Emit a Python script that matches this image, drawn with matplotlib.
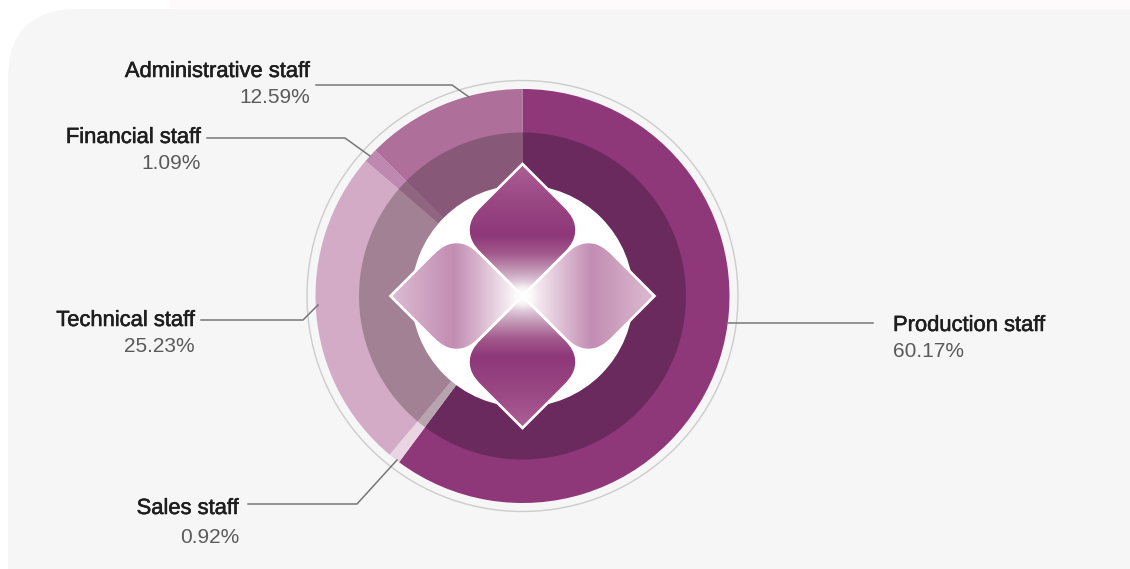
import numpy as np
import matplotlib
matplotlib.use("Agg")
import matplotlib.pyplot as plt
import matplotlib.patheffects as pe
from matplotlib.colors import LinearSegmentedColormap
from matplotlib.patches import Circle, FancyBboxPatch, PathPatch, Rectangle
from matplotlib.path import Path

labels = ["Production staff", "Sales staff", "Technical staff", "Financial staff", "Administrative staff"]
shares = [60.17, 0.92, 25.23, 1.09, 12.59]

outer_colors = ["#8E3779", "#EAD5E3", "#D3ABC6", "#BF88B0", "#AE6F9B"]
inner_colors = ["#6B2A5E", "#B8A4AF", "#A38195", "#8F6580", "#875877"]

# baseline of the name and value lines, alignment, leader polyline
label_x = [893, 239, 195, 201, 310]
name_y = [331, 514, 326, 143, 77]
value_y = [357, 543, 352, 169, 103]
label_ha = ["left", "right", "right", "right", "right"]
leaders = [
    [(727, 323), (873, 323)],
    [(248, 504), (357, 504), (397, 460)],
    [(201, 320), (303, 320), (318, 305)],
    [(207, 138), (345, 138), (370, 156)],
    [(316, 85), (452, 85), (469, 97)],
]

cx, cy = 522.5, 296
W, H = 1130, 569

plt.rcParams["font.family"] = ["Liberation Sans", "DejaVu Sans"]

fig = plt.figure(figsize=(W / 100, H / 100), dpi=100, facecolor="white")
ax = fig.add_axes([0, 0, 1, 1])

# background panel, runs off the right and bottom edges
ax.add_patch(Rectangle((170, 0), 960, 10, fc="#FEFAFB", ec="none", zorder=0))
ax.add_patch(FancyBboxPatch((78, 79), 1300, 800, boxstyle="round,pad=70,rounding_size=70",
                            fc="#F6F6F6", ec="none", zorder=0))

# thin guide ring
ax.add_patch(Circle((cx, cy), 215.5, fc="none", ec="#CCCCCC", lw=1.0, zorder=1))

# y axis is flipped, so startangle=-90 with counterclock goes clockwise from the top
ax.pie(shares, colors=outer_colors, radius=207, center=(cx, cy), startangle=-90,
       counterclock=True, wedgeprops=dict(lw=0, zorder=2))
ax.pie(shares, colors=inner_colors, radius=163.5, center=(cx, cy), startangle=-90,
       counterclock=True, wedgeprops=dict(lw=0, zorder=3))
ax.add_patch(Circle((cx, cy), 111, fc="white", ec="none", zorder=4))


def petal(ux, uy, tip=132, bulge=66, start=42, w=54):
    # one rounded diamond, from the centre out to the tip along (ux, uy)
    far = 2 * bulge - start
    local = [(0, 0), (start, start),
             (start + 8, start + 8), (bulge - 9, w), (bulge, w),
             (bulge + 9, w), (far - 8, start + 8), (far, start),
             (tip, 0), (far, -start),
             (far - 8, -start - 8), (bulge + 9, -w), (bulge, -w),
             (bulge - 9, -w), (start + 8, -start - 8), (start, -start),
             (0, 0)]
    verts = [(cx + u * ux - v * uy, cy + u * uy + v * ux) for u, v in local]
    codes = [Path.MOVETO, Path.LINETO] + [Path.CURVE4] * 6 + [Path.LINETO] * 2 \
        + [Path.CURVE4] * 6 + [Path.CLOSEPOLY]
    return Path(verts, codes)


dark_ramp = LinearSegmentedColormap.from_list("dark_ramp", [
    (0, "#FFFFFF"), (0.06, "#EFE2EB"), (0.14, "#D3B5CA"), (0.22, "#BC8DAE"), (0.32, "#A35A8D"),
    (0.46, "#8E3779"), (0.75, "#9B4985"), (1, "#AC6096")])
light_ramp = LinearSegmentedColormap.from_list("light_ramp", [
    (0, "#FFFFFF"), (0.12, "#F3E6EF"), (0.3, "#DDBED3"), (0.52, "#C28DB3"),
    (0.72, "#CDA0BF"), (1, "#DDBCD2")])

xs = np.linspace(cx - 134, cx + 134, 537)
ys = np.linspace(cy - 134, cy + 134, 537)
gx, gy = np.meshgrid(xs - cx, ys - cy)
vertical = np.abs(gy) >= np.abs(gx)
rgba = np.where(vertical[..., None], dark_ramp(np.abs(gy) / 132), light_ramp(np.abs(gx) / 132))
glow = np.exp(-(np.hypot(gx, gy) / 10) ** 2)[..., None]
rgba[..., :3] = rgba[..., :3] * (1 - glow) + glow

petals = [petal(0, -1), petal(1, 0), petal(0, 1), petal(-1, 0)]
img = ax.imshow(rgba, extent=(xs[0], xs[-1], ys[-1], ys[0]), origin="upper", zorder=5,
                interpolation="bilinear")
clip = PathPatch(Path.make_compound_path(*petals), transform=ax.transData, fc="none", ec="none")
ax.add_patch(clip)
img.set_clip_path(clip)
for p in petals:
    ax.add_patch(PathPatch(p, fc="none", ec="white", lw=1.9, joinstyle="miter", zorder=6))

# leaders and labels
for pts in leaders:
    ax.plot(*zip(*pts), color="#777777", lw=1.1, solid_joinstyle="miter", zorder=7)

for name, share, x, ny, vy, ha in zip(labels, shares, label_x, name_y, value_y, label_ha):
    t = ax.text(x, ny, name, ha=ha, va="baseline", fontsize=15.8, color="#1E1E1E", zorder=8)
    # no medium weight installed, thicken the regular a little
    t.set_path_effects([pe.withStroke(linewidth=0.4, foreground="#1E1E1E")])
    ax.text(x, vy, f"{share:.2f}%", ha=ha, va="baseline", fontsize=15, color="#5A5A5A", zorder=8)

ax.set_xlim(0, W)
ax.set_ylim(H, 0)
ax.set_aspect("equal")
ax.axis("off")

fig.savefig("out.png", dpi=100)
